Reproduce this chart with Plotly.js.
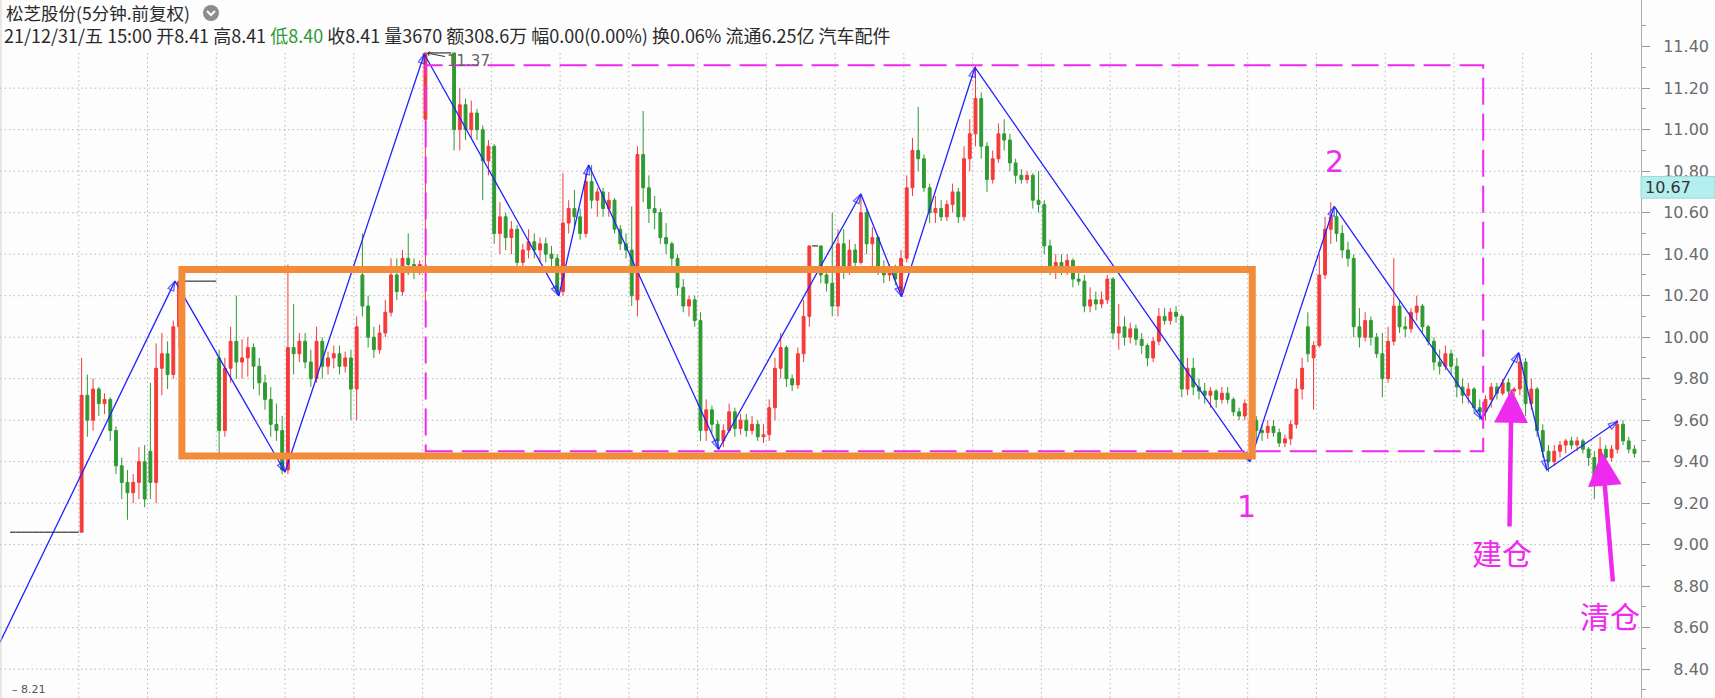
<!DOCTYPE html>
<html><head><meta charset="utf-8">
<script src="https://cdn.plot.ly/plotly-3.0.1.min.js"></script>
<style>html,body{margin:0;padding:0;background:#fdfdfd;}#chart{width:1715px;height:698px;}</style>
</head><body><div id="chart"></div>
<script>
// 5-minute bars (sampled), one row per trading day
const openP = [
9.06,9.06,9.06,9.06,9.06,9.06,9.06,9.06,9.06,9.06,9.06,9.06,
9.06,9.72,9.60,9.75,9.68,9.70,9.55,9.38,9.30,9.25,9.30,9.40,
9.45,9.30,9.85,9.92,9.82,10.05,10.27,10.27,10.27,10.27,10.27,10.27,
9.90,9.55,9.85,9.98,9.88,9.90,9.95,9.86,9.78,9.70,9.58,9.55,
9.36,9.95,9.92,9.98,9.88,9.80,9.98,9.86,9.90,9.92,9.86,9.90,
9.75,10.30,10.15,10.00,9.94,10.02,10.12,10.30,10.22,10.38,10.35,10.32,
11.05,11.37,11.37,11.37,11.37,11.37,11.00,11.12,11.00,11.08,11.00,10.85,
10.92,10.50,10.58,10.48,10.52,10.36,10.42,10.46,10.42,10.45,10.40,10.38,
10.22,10.55,10.62,10.58,10.50,10.75,10.66,10.70,10.62,10.66,10.52,10.45,
10.42,10.18,10.88,10.72,10.62,10.60,10.48,10.45,10.38,10.24,10.15,10.18,
10.08,9.55,9.65,9.58,9.50,9.55,9.64,9.56,9.60,9.55,9.58,9.52,
9.53,9.66,9.85,9.95,9.80,9.77,9.92,10.10,10.44,10.44,10.30,10.26,
10.15,10.45,10.32,10.42,10.36,10.60,10.45,10.48,10.33,10.30,10.32,10.22,
10.38,10.72,10.90,10.86,10.72,10.60,10.62,10.58,10.64,10.70,10.58,10.86,
10.98,11.15,10.92,10.76,10.86,10.98,10.95,10.84,10.78,10.76,10.78,10.66,
10.64,10.44,10.34,10.36,10.33,10.37,10.28,10.27,10.15,10.18,10.16,10.18,
10.28,10.02,10.05,10.00,10.04,9.99,9.96,9.90,9.98,10.10,10.08,10.12,
10.10,9.75,9.85,9.76,9.74,9.72,9.74,9.70,9.73,9.70,9.64,9.62,
9.45,9.60,9.55,9.54,9.57,9.54,9.49,9.51,9.58,9.75,10.05,9.90,
9.96,10.30,10.52,10.58,10.50,10.42,10.38,10.05,10.00,10.08,10.00,9.92,
9.80,9.98,10.15,10.05,10.04,10.12,10.15,10.05,9.98,9.88,9.86,9.92,
9.86,9.76,9.72,9.75,9.66,9.64,9.70,9.76,9.73,9.78,9.74,9.75,
9.88,9.68,9.75,9.55,9.45,9.40,9.45,9.48,9.50,9.48,9.50,9.46,
9.42,9.30,9.46,9.42,9.46,9.58,9.50,9.46];
const highP = [
9.06,9.06,9.06,9.06,9.06,9.06,9.06,9.06,9.06,9.06,9.06,9.06,
9.90,9.82,9.80,9.76,9.73,9.71,9.57,9.42,9.36,9.34,9.47,9.48,
9.78,9.97,10.02,9.98,10.08,10.27,10.27,10.27,10.27,10.27,10.27,10.27,
9.94,9.90,10.05,10.20,9.99,10.00,9.97,9.90,9.82,9.76,9.68,9.62,
10.35,10.16,10.02,10.02,9.94,10.05,10.00,9.93,9.96,9.96,9.93,9.94,
10.10,10.50,10.20,10.05,10.06,10.18,10.38,10.38,10.42,10.50,10.38,10.37,
11.37,11.37,11.37,11.37,11.37,11.37,11.20,11.15,11.14,11.10,11.02,10.95,
10.93,10.65,10.60,10.56,10.54,10.45,10.52,10.50,10.48,10.48,10.44,10.40,
10.79,10.66,10.71,10.62,10.79,10.83,10.72,10.72,10.70,10.67,10.54,10.50,
10.63,10.92,11.09,10.78,10.68,10.62,10.55,10.46,10.40,10.28,10.20,10.20,
10.12,9.70,9.67,9.60,9.58,9.68,9.66,9.63,9.63,9.62,9.60,9.58,
9.70,9.90,10.02,9.96,9.82,9.95,10.18,10.44,10.44,10.44,10.34,10.60,
10.52,10.52,10.47,10.45,10.69,10.62,10.53,10.49,10.37,10.35,10.35,10.42,
10.78,10.96,11.11,10.88,10.74,10.68,10.66,10.66,10.74,10.72,10.92,11.05,
11.31,11.18,10.94,10.90,11.03,11.05,10.98,10.86,10.81,10.80,10.79,10.80,
10.66,10.47,10.40,10.40,10.40,10.38,10.32,10.30,10.24,10.22,10.22,10.30,
10.29,10.16,10.10,10.07,10.06,10.02,9.97,10.00,10.14,10.14,10.14,10.15,
10.11,9.90,9.90,9.80,9.78,9.76,9.75,9.76,9.76,9.71,9.66,9.70,
9.68,9.62,9.58,9.60,9.60,9.56,9.53,9.60,9.80,9.90,10.12,9.98,
10.40,10.58,10.65,10.62,10.54,10.46,10.40,10.14,10.12,10.10,10.02,10.02,
10.05,10.38,10.18,10.10,10.14,10.20,10.16,10.06,10.00,9.94,9.96,9.94,
9.90,9.80,9.78,9.76,9.70,9.72,9.78,9.78,9.80,9.80,9.76,9.92,
9.90,9.80,9.76,9.58,9.48,9.48,9.50,9.51,9.52,9.52,9.51,9.47,
9.45,9.52,9.48,9.48,9.60,9.60,9.52,9.48];
const lowP = [
9.06,9.06,9.06,9.06,9.06,9.06,9.06,9.06,9.06,9.06,9.06,9.06,
9.06,9.52,9.55,9.62,9.63,9.50,9.34,9.22,9.12,9.20,9.22,9.18,
9.22,9.20,9.72,9.75,9.80,9.95,10.27,10.27,10.27,10.27,10.27,10.27,
9.41,9.52,9.78,9.80,9.80,9.81,9.75,9.72,9.65,9.52,9.50,9.34,
9.34,9.82,9.88,9.85,9.76,9.78,9.80,9.82,9.85,9.82,9.83,9.60,
9.60,10.10,9.95,9.90,9.92,10.00,10.10,10.18,10.20,10.30,10.28,10.30,
10.15,11.37,11.37,11.37,11.37,10.90,10.90,10.95,10.96,10.95,10.66,10.78,
10.45,10.40,10.42,10.40,10.31,10.31,10.38,10.38,10.36,10.36,10.34,10.20,
10.20,10.50,10.52,10.47,10.48,10.62,10.58,10.58,10.58,10.50,10.42,10.38,
10.15,10.10,10.65,10.55,10.52,10.45,10.40,10.34,10.20,10.12,10.10,10.05,
9.50,9.50,9.54,9.46,9.47,9.54,9.52,9.53,9.52,9.53,9.50,9.49,
9.50,9.60,9.80,9.76,9.74,9.75,9.88,10.05,10.44,10.26,10.22,10.10,
10.10,10.28,10.30,10.33,10.35,10.40,10.34,10.30,10.26,10.27,10.25,10.20,
10.36,10.68,10.80,10.70,10.55,10.55,10.56,10.56,10.60,10.55,10.56,10.80,
10.92,10.86,10.70,10.74,10.84,10.90,10.80,10.74,10.74,10.74,10.62,10.60,
10.40,10.30,10.28,10.30,10.30,10.24,10.25,10.12,10.12,10.13,10.14,10.16,
9.99,9.94,9.96,9.97,9.96,9.92,9.86,9.88,9.96,10.06,10.06,10.07,
9.71,9.72,9.72,9.70,9.68,9.66,9.66,9.68,9.68,9.62,9.60,9.60,
9.41,9.50,9.50,9.51,9.52,9.47,9.47,9.48,9.56,9.70,9.88,9.65,
9.95,10.28,10.45,10.46,10.38,10.34,10.00,9.95,9.98,9.96,9.90,9.71,
9.78,9.96,10.02,10.00,10.02,10.08,10.02,9.96,9.84,9.82,9.84,9.82,
9.71,9.68,9.68,9.64,9.60,9.60,9.66,9.70,9.72,9.72,9.72,9.72,
9.62,9.65,9.52,9.42,9.35,9.38,9.42,9.44,9.46,9.45,9.44,9.38,
9.22,9.28,9.38,9.40,9.44,9.48,9.44,9.42];
const closeP = [
9.06,9.06,9.06,9.06,9.06,9.06,9.06,9.06,9.06,9.06,9.06,9.06,
9.72,9.60,9.75,9.68,9.70,9.55,9.38,9.30,9.25,9.30,9.40,9.22,
9.30,9.85,9.92,9.82,10.05,10.27,10.27,10.27,10.27,10.27,10.27,10.27,
9.55,9.85,9.98,9.88,9.90,9.95,9.86,9.78,9.70,9.58,9.55,9.36,
9.95,9.92,9.98,9.88,9.80,9.98,9.86,9.90,9.92,9.86,9.90,9.75,
10.05,10.15,10.00,9.94,10.02,10.12,10.30,10.22,10.38,10.35,10.32,10.35,
11.37,11.37,11.37,11.37,11.37,11.00,11.12,11.00,11.08,11.00,10.85,10.92,
10.50,10.58,10.48,10.52,10.36,10.42,10.46,10.42,10.45,10.40,10.38,10.22,
10.55,10.62,10.58,10.50,10.75,10.66,10.70,10.62,10.66,10.52,10.45,10.42,
10.20,10.88,10.72,10.62,10.60,10.48,10.45,10.38,10.24,10.15,10.18,10.08,
9.55,9.65,9.58,9.50,9.55,9.64,9.56,9.60,9.55,9.58,9.52,9.53,
9.66,9.85,9.95,9.80,9.77,9.92,10.10,10.44,10.44,10.30,10.26,10.15,
10.45,10.32,10.42,10.36,10.60,10.45,10.48,10.33,10.30,10.32,10.28,10.38,
10.72,10.90,10.86,10.72,10.60,10.62,10.58,10.64,10.70,10.58,10.86,10.98,
11.15,10.92,10.76,10.86,10.98,10.95,10.84,10.78,10.76,10.78,10.66,10.64,
10.44,10.34,10.36,10.33,10.37,10.28,10.27,10.15,10.18,10.16,10.18,10.28,
10.02,10.05,10.00,10.04,9.99,9.96,9.90,9.98,10.10,10.08,10.12,10.10,
9.75,9.85,9.76,9.74,9.72,9.74,9.70,9.73,9.70,9.64,9.62,9.68,
9.60,9.55,9.54,9.57,9.54,9.49,9.51,9.58,9.75,9.85,9.92,9.96,
10.30,10.52,10.58,10.50,10.42,10.38,10.05,10.00,10.08,10.00,9.92,9.80,
9.98,10.15,10.05,10.04,10.12,10.15,10.05,9.98,9.88,9.86,9.92,9.86,
9.76,9.72,9.75,9.66,9.64,9.70,9.76,9.73,9.78,9.74,9.75,9.88,
9.68,9.75,9.55,9.45,9.40,9.45,9.48,9.50,9.48,9.50,9.46,9.42,
9.30,9.46,9.42,9.46,9.58,9.50,9.46,9.44];

// zigzag turning points (bar position, price)
const zigzagBar   = [-2.24, 28.3, 47.5, 71.8, 95.3, 100.5, 123.2, 148.0, 155.1, 167.9, 215.9, 230.6, 256.4, 262.8, 267.7, 280.1];
const zigzagPrice = [8.53, 10.27, 9.35, 11.365, 10.20, 10.83, 9.46, 10.69, 10.195, 11.30, 9.40, 10.63, 9.605, 9.925, 9.36, 9.595];

// drawn boxes
const boxBars = [29.5, 216.3];
const boxPrices = [9.427, 10.326];
const dashBars = [72.05, 256.6];
const dashPrices = [9.45, 11.31];

// axis ticks
const priceTicks = [8.4,8.6,8.8,9.0,9.2,9.4,9.6,9.8,10.0,10.2,10.4,10.6,10.8,11.0,11.2,11.4];
const minorTicks = [8.3,8.5,8.7,8.9,9.1,9.3,9.5,9.7,9.9,10.1,10.3,10.5,10.7,10.9,11.1,11.3,11.5];
const gridPrices = [8.4,8.6,8.8,9.0,9.2,9.4,9.6,9.8,10.0,10.2,10.4,10.6,10.8,11.0,11.2];
const dayBreaks = [11.5,23.5,35.5,47.5,59.5,71.5,83.5,95.5,107.5,119.5,131.5,143.5,155.5,167.5,179.5,191.5,203.5,215.5,227.5,239.5,251.5,263.5,275.5];
const lastPrice = 10.67;
const peakLabel = {bar: 72.1, price: 11.37, text: '11.37'};

const UP = '#f53a3a', DOWN = '#2f9a32', FLAT = '#333333';
const MAG = '#ee2aee', BLUE = '#2222ff';

const W = 1715, H = 698, PR = 1641;
const pxX = x => x / PR;
const pxY = y => 1 - y / H;

function pick(cond) {
  const s = {x: [], o: [], h: [], l: [], c: []};
  openP.forEach((o, i) => {
    if (cond(o, closeP[i])) { s.x.push(i); s.o.push(o); s.h.push(highP[i]); s.l.push(lowP[i]); s.c.push(closeP[i]); }
  });
  return s;
}
function candle(s, color) {
  return {type: 'candlestick', x: s.x, open: s.o, high: s.h, low: s.l, close: s.c,
    increasing: {line: {color: color, width: 1}, fillcolor: color},
    decreasing: {line: {color: color, width: 1}, fillcolor: color},
    whiskerwidth: 0, hoverinfo: 'skip', showlegend: false};
}
// one-price (doji) bars drawn as joined flat segments
const flat = pick((o, c) => c === o);
const flatX = [], flatY = [];
flat.x.forEach((x, k) => { flatX.push(x - 0.5, x + 0.5, null); flatY.push(flat.c[k], flat.c[k], null); });

const traces = [
  candle(pick((o, c) => c > o), UP),
  candle(pick((o, c) => c < o), DOWN),
  {type: 'scatter', mode: 'lines', x: flatX, y: flatY, line: {color: FLAT, width: 1.2},
   hoverinfo: 'skip', showlegend: false},
  {type: 'scatter', mode: 'lines+markers', x: zigzagBar, y: zigzagPrice,
   line: {color: BLUE, width: 1.3},
   marker: {symbol: 'arrow-open', angleref: 'previous', size: zigzagBar.map((_, k) => k === 0 ? 0 : 10),
            color: BLUE, line: {color: BLUE, width: 1.3}},
   hoverinfo: 'skip', showlegend: false}
];

const shapes = [];
gridPrices.forEach(p => shapes.push({type: 'line', xref: 'paper', x0: 0, x1: 1, yref: 'y', y0: p, y1: p,
  line: {color: '#b8b8b8', width: 1, dash: '1.5px,3px'}, layer: 'below'}));
dayBreaks.forEach(d => shapes.push({type: 'line', xref: 'x', x0: d, x1: d, yref: 'paper', y0: 0, y1: pxY(52),
  line: {color: '#b8b8b8', width: 1, dash: '1.5px,3px'}, layer: 'below'}));
shapes.push({type: 'line', xref: 'paper', x0: 0.0006, x1: 0.0006, yref: 'paper', y0: 0, y1: 1, line: {color: '#d0d0d0', width: 1}});
shapes.push({type: 'rect', xref: 'x', yref: 'y', x0: dashBars[0], x1: dashBars[1], y0: dashPrices[0], y1: dashPrices[1],
  line: {color: MAG, width: 2, dash: '27px,9px'}, layer: 'above'});
shapes.push({type: 'rect', xref: 'x', yref: 'y', x0: boxBars[0], x1: boxBars[1], y0: boxPrices[0], y1: boxPrices[1],
  line: {color: '#f28b3a', width: 7}, layer: 'above'});
// current price tag
shapes.push({type: 'rect', xref: 'paper', yref: 'y', x0: 1, x1: W / PR, y0: lastPrice, y1: lastPrice + 0.104,
  fillcolor: '#b4eeee', line: {color: '#9ad8d8', width: 1}, layer: 'above'});
// header icon
shapes.push({type: 'circle', xref: 'paper', yref: 'paper', xsizemode: 'pixel', ysizemode: 'pixel',
  xanchor: pxX(211), yanchor: pxY(13), x0: -8, x1: 8, y0: -8, y1: 8, fillcolor: '#8c8c8c', line: {width: 0}});
shapes.push({type: 'path', xref: 'paper', yref: 'paper', xsizemode: 'pixel', ysizemode: 'pixel',
  xanchor: pxX(211), yanchor: pxY(13), path: 'M-4,2 L0,-2 L4,2', line: {color: '#ffffff', width: 2}});

const hdrFont = {family: 'Noto Sans CJK SC', size: 18, color: '#2a2a2a'};
function label(px, py, text, font) {
  return {xref: 'paper', yref: 'paper', x: pxX(px), y: pxY(py), xanchor: 'center', yanchor: 'middle',
          showarrow: false, text: text, font: font};
}
const annotations = [
  {xref: 'paper', yref: 'paper', x: pxX(4), y: pxY(13), xanchor: 'left', yanchor: 'middle', showarrow: false,
   text: '松芝股份(5分钟.前复权)', font: {family: 'Noto Sans CJK SC', size: 17.5, color: '#2a2a2a'}},
  {xref: 'paper', yref: 'paper', x: pxX(2), y: pxY(35), xanchor: 'left', yanchor: 'middle', showarrow: false,
   text: '21/12/31/五 15:00 开8.41 高8.41 <span style="color:#2f9a32">低8.40</span> 收8.41 量3670 额308.6万 幅0.00(0.00%) 换0.06% 流通6.25亿 汽车配件',
   font: hdrFont},
  {xref: 'paper', yref: 'y', x: pxX(1643), y: lastPrice + 0.052, xanchor: 'left', yanchor: 'middle', showarrow: false,
   text: lastPrice.toFixed(2), font: {family: 'DejaVu Sans', size: 16, color: '#333'}},
  {xref: 'x', yref: 'y', x: peakLabel.bar, y: peakLabel.price, text: peakLabel.text, showarrow: true,
   ax: 42, ay: 8, arrowhead: 4, arrowsize: 0.8, arrowwidth: 1, arrowcolor: '#333', standoff: 1,
   font: {family: 'DejaVu Sans', size: 15, color: '#666'}},
  label(1246, 506, '1', {family: 'DejaVu Sans', size: 30, color: MAG}),
  label(1334, 161, '2', {family: 'DejaVu Sans', size: 30, color: MAG}),
  label(1502, 552, '建仓', {family: 'Noto Sans CJK SC', size: 30, color: MAG}),
  label(1610, 615, '清仓', {family: 'Noto Sans CJK SC', size: 30, color: MAG}),
  {xref: 'paper', yref: 'paper', x: pxX(1511.5), y: pxY(389), text: '', showarrow: true, ax: -2, ay: 139,
   arrowhead: 2, arrowsize: 1.5, arrowwidth: 4.5, arrowcolor: MAG},
  {xref: 'paper', yref: 'paper', x: pxX(1602), y: pxY(452), text: '', showarrow: true, ax: 11, ay: 131,
   arrowhead: 2, arrowsize: 1.5, arrowwidth: 4.5, arrowcolor: MAG},
  {xref: 'paper', yref: 'paper', x: pxX(10), y: 0, xanchor: 'left', yanchor: 'bottom', showarrow: false,
   text: '– 8.21', font: {family: 'DejaVu Sans', size: 11, color: '#555'}}
];

const NB = '\u00a0\u00a0';
const layout = {
  width: W, height: H, margin: {l: 0, r: W - PR, t: 0, b: 0},
  paper_bgcolor: '#fdfdfd', plot_bgcolor: '#fdfdfd', showlegend: false,
  boxgap: 0.5, boxgroupgap: 0,
  xaxis: {range: [-2.245, 284.14], showgrid: false, zeroline: false, showticklabels: false, ticks: '',
          showline: false, rangeslider: {visible: false}, fixedrange: true},
  yaxis: {side: 'right', range: [8.261, 11.625], tickvals: priceTicks,
          ticktext: priceTicks.map(p => (p < 10 ? NB : '') + p.toFixed(2)),
          ticks: 'outside', ticklen: 8, tickcolor: '#999', tickwidth: 1,
          minor: {tickvals: minorTicks, ticks: 'outside', ticklen: 4, tickcolor: '#999'},
          showgrid: false, zeroline: false, showline: true, linecolor: '#aaa', linewidth: 1,
          tickfont: {family: 'DejaVu Sans', size: 16, color: '#6b6b6b'}, ticklabelstandoff: 10, fixedrange: true},
  shapes: shapes, annotations: annotations
};
Plotly.newPlot('chart', traces, layout, {displayModeBar: false, staticPlot: true});
</script></body></html>
